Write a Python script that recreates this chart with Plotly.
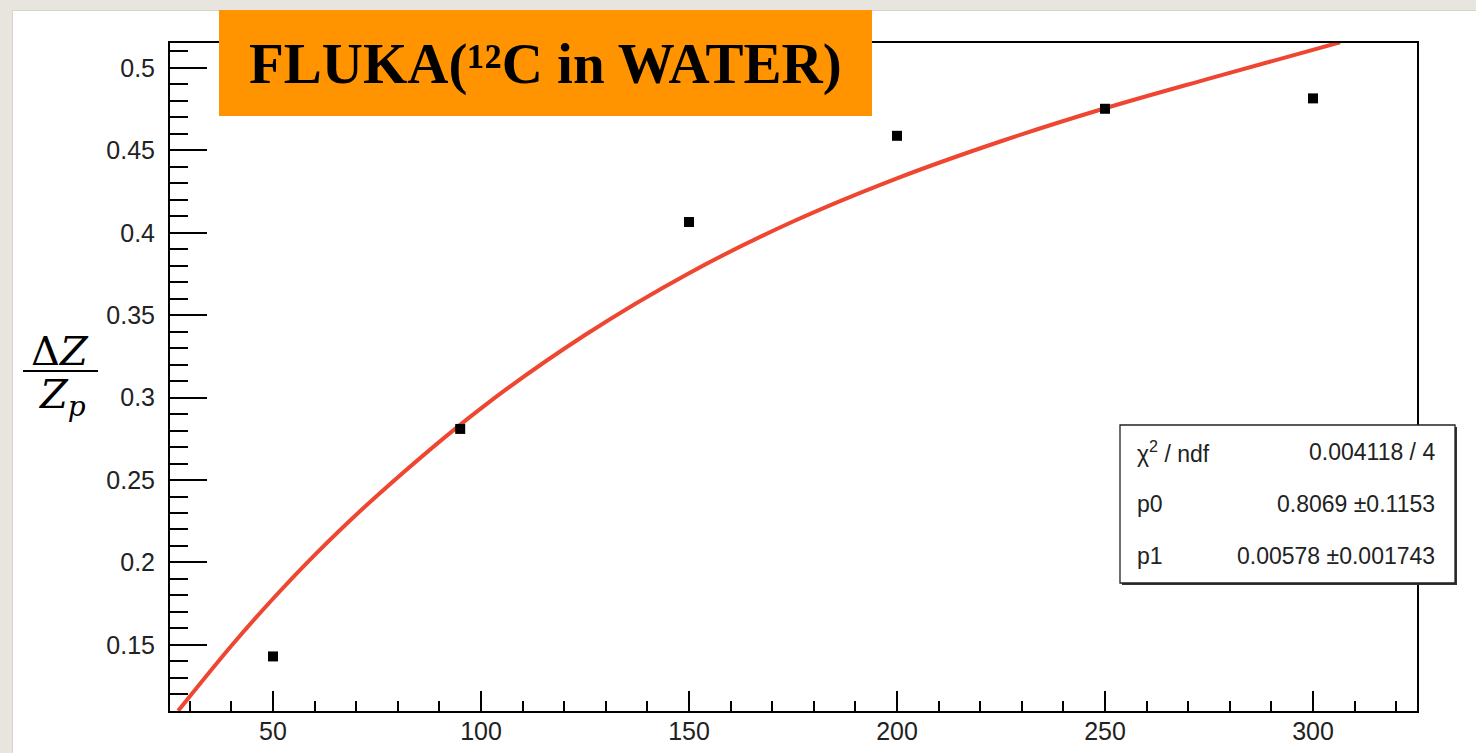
import plotly.graph_objects as go

# ---- data ----
energy = [50, 95, 150, 200, 250, 300]
dz_over_zp = [0.1430, 0.2810, 0.4065, 0.4588, 0.4752, 0.4815]

fit_x = [27.2, 40, 50, 60, 75, 100, 125, 150, 175, 200, 225, 250, 275, 306.5]
fit_y = [0.110, 0.1495, 0.178, 0.2045, 0.2405, 0.2935, 0.338, 0.3755, 0.4068, 0.433, 0.4555,
         0.4755, 0.4935, 0.5155]

x_ticks = [50, 100, 150, 200, 250, 300]
y_ticks = [0.15, 0.2, 0.25, 0.3, 0.35, 0.4, 0.45, 0.5]
y_tick_text = ["0.15", "0.2", "0.25", "0.3", "0.35", "0.4", "0.45", "0.5"]

stat_labels = ["χ<sup>2</sup> / ndf", "p0", "p1"]
stat_values = ["0.004118 / 4", "0.8069 ±0.1153", "0.00578 ±0.001743"]

title_text = "FLUKA(¹²C in WATER)"

# ---- layout geometry (pixels) ----
W, H = 1476, 753
L, R, T, B = 170, 59, 43, 42
PW, PH = W - L - R, H - T - B


def px(xp):
    return (xp - L) / PW


def py(yp):
    return (H - B - yp) / PH


fig = go.Figure()

fig.add_trace(go.Scatter(
    x=fit_x, y=fit_y, mode="lines", line=dict(color="#EE4630", width=4, shape="spline", smoothing=1.0),
    showlegend=False, hoverinfo="skip"))

fig.add_trace(go.Scatter(
    x=energy, y=dz_over_zp, mode="markers",
    marker=dict(symbol="square", size=10, color="black"),
    showlegend=False))

shapes = []
beige = "#E8E5DF"
shapes.append(dict(type="rect", xref="paper", yref="paper", x0=px(0), x1=px(W), y0=py(0), y1=py(10),
                   fillcolor=beige, line_width=0, layer="below"))
shapes.append(dict(type="rect", xref="paper", yref="paper", x0=px(0), x1=px(12), y0=py(0), y1=py(H),
                   fillcolor=beige, line_width=0, layer="below"))
shapes.append(dict(type="line", xref="paper", yref="paper", x0=px(12), x1=px(W), y0=py(10.5), y1=py(10.5),
                   line=dict(color="#D6D3CD", width=1), layer="below"))
shapes.append(dict(type="line", xref="paper", yref="paper", x0=px(12.5), x1=px(12.5), y0=py(10), y1=py(H),
                   line=dict(color="#D6D3CD", width=1), layer="below"))

# orange title box
shapes.append(dict(type="rect", xref="paper", yref="paper", x0=px(219), x1=px(872), y0=py(10), y1=py(116),
                   fillcolor="#FF9300", line_width=0, layer="above"))

# stats box with shadow
shapes.append(dict(type="rect", xref="paper", yref="paper", x0=px(1122), x1=px(1457), y0=py(427), y1=py(585),
                   fillcolor="#333333", line_width=0, layer="above"))
shapes.append(dict(type="rect", xref="paper", yref="paper", x0=px(1120), x1=px(1455), y0=py(425), y1=py(583),
                   fillcolor="white", line=dict(color="#222222", width=1.3), layer="above"))

# fraction bar of the y label
shapes.append(dict(type="line", xref="paper", yref="paper", x0=px(23), x1=px(98), y0=py(371), y1=py(371),
                   line=dict(color="black", width=2), layer="above"))

annotations = []
annotations.append(dict(xref="paper", yref="paper", x=px(545), y=py(64), text="<b>" + title_text + "</b>",
                        showarrow=False, xanchor="center", yanchor="middle",
                        font=dict(family="Liberation Serif", size=57, color="black")))

row_y = [452, 504, 556]
for lab, val, ry in zip(stat_labels, stat_values, row_y):
    annotations.append(dict(xref="paper", yref="paper", x=px(1135), y=py(ry), text=lab, showarrow=False,
                            xanchor="left", yanchor="middle",
                            font=dict(family="Liberation Sans", size=23, color="#222222")))
    annotations.append(dict(xref="paper", yref="paper", x=px(1437), y=py(ry), text=val, showarrow=False,
                            xanchor="right", yanchor="middle",
                            font=dict(family="Liberation Sans", size=23, color="#222222")))

annotations.append(dict(xref="paper", yref="paper", x=px(60), y=py(351), text="Δ<i>Z</i>",
                        showarrow=False, xanchor="center", yanchor="middle",
                        font=dict(family="DejaVu Serif", size=40, color="black")))
annotations.append(dict(xref="paper", yref="paper", x=px(62), y=py(397), text="<i>Z<sub>p</sub></i>",
                        showarrow=False, xanchor="center", yanchor="middle",
                        font=dict(family="DejaVu Serif", size=40, color="black")))

fig.update_layout(
    width=W, height=H,
    margin=dict(l=L, r=R, t=T, b=B),
    paper_bgcolor="white", plot_bgcolor="white",
    shapes=shapes, annotations=annotations,
    xaxis=dict(range=[25.24, 325.0], tickvals=x_ticks, ticks="inside", ticklen=20, tickwidth=2,
               tickcolor="black", showline=True, linewidth=2, linecolor="black", mirror=True,
               showgrid=False, zeroline=False, ticklabelstandoff=-3, automargin=False,
               tickfont=dict(family="Liberation Sans", size=25, color="#222222"),
               minor=dict(dtick=10, tick0=0, ticks="inside", ticklen=10, tickwidth=1.5,
                          tickcolor="black", showgrid=False)),
    yaxis=dict(range=[0.1099, 0.5151], tickvals=y_ticks, ticktext=y_tick_text, ticks="inside",
               ticklen=37, tickwidth=2, tickcolor="black", showline=True, linewidth=2,
               linecolor="black", mirror=True, showgrid=False, zeroline=False, ticklabelstandoff=8,
               automargin=False,
               tickfont=dict(family="Liberation Sans", size=25, color="#222222"),
               minor=dict(dtick=0.01, tick0=0, ticks="inside", ticklen=18, tickwidth=1.5,
                          tickcolor="black", showgrid=False)),
)

fig.write_html("out.html")
